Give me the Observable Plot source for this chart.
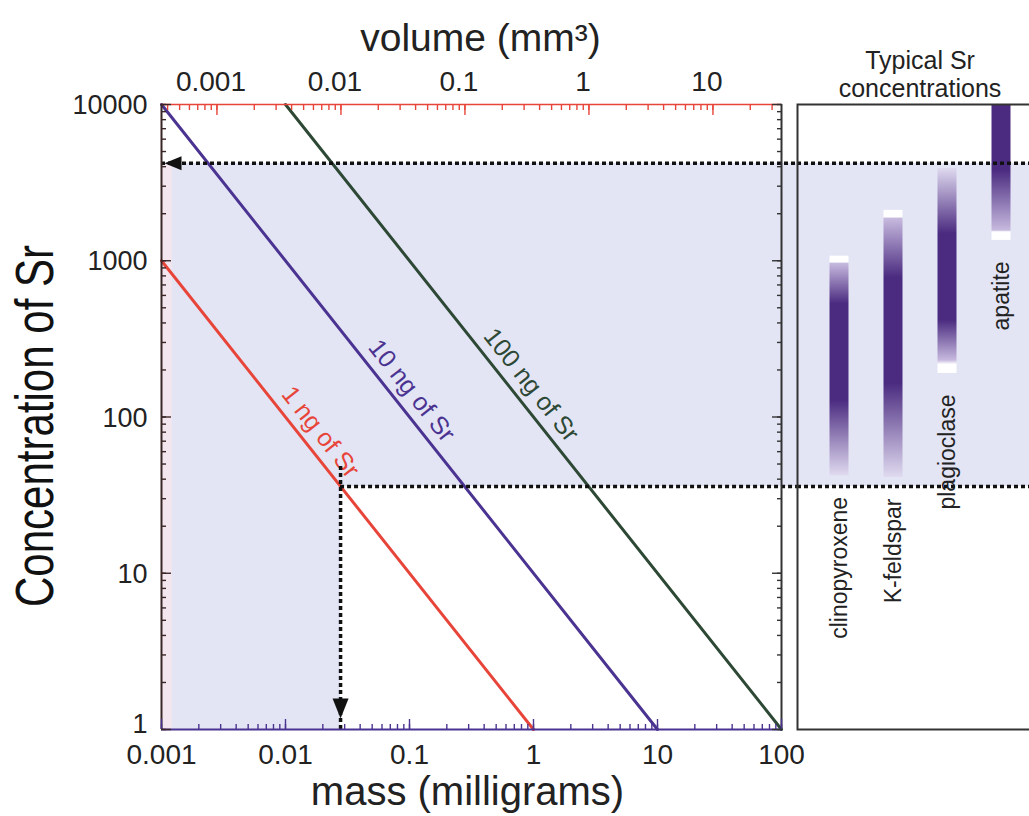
<!DOCTYPE html>
<html><head><meta charset="utf-8">
<script src="https://cdn.jsdelivr.net/npm/d3@7"></script>
<script src="https://cdn.jsdelivr.net/npm/@observablehq/plot@0.6"></script>
<style>
html,body{margin:0;padding:0;background:#fff;overflow:hidden}
#chart{position:relative;width:1029px;height:816px;overflow:hidden}
#chart svg{position:absolute;top:0}
</style></head><body><div id="chart"></div>
<script>
// ---------- data ----------
const massMajor = [0.001, 0.01, 0.1, 1, 10, 100];
const massTickLabels = ["0.001", "0.01", "0.1", "1", "10", "100"];
const concMajor = [1, 10, 100, 1000, 10000];
const concTickLabels = ["1", "10", "100", "1000", "10000"];
const volumeMajor = [0.001, 0.01, 0.1, 1, 10];
const volumeTickLabels = ["0.001", "0.01", "0.1", "1", "10"];
const density = 2.8; // mg per mm3 (volume axis)

const seriesNames = ["1 ng of Sr", "10 ng of Sr", "100 ng of Sr"];
const seriesMassStart = [0.001, 0.001, 0.01];
const seriesConcStart = [1000, 10000, 10000];
const seriesMassEnd = [1, 10, 100];
const seriesConcEnd = [1, 1, 1];
const labelMass = [0.0147, 0.080, 0.736];
const labelConc = [68, 125, 136];

const exampleMass = 0.0278;
const lowerConc = 35.9;
const upperConc = 4200;

const minerals = ["clinopyroxene", "K-feldspar", "plagioclase", "apatite"];
const mineralHigh = [1070, 2100, 3900, 10000];
const mineralLow = [42, 41, 190, 1350];
// gradient stops: [concentration, tone]  (tone: w = white cap, l = light, d = dark, f = faded)
const mineralStops = [
  [[1070, "w"], [975, "w"], [955, "l"], [530, "d"], [127, "d"], [42, "f"]],
  [[2100, "w"], [1900, "w"], [1850, "l"], [780, "d"], [163, "d"], [41, "f"]],
  [[3900, "f"], [1490, "d"], [415, "d"], [230, "l"], [216, "w"], [190, "w"]],
  [[10000, "d"], [3780, "d"], [1560, "l"], [1520, "w"], [1350, "w"]]
];

// ---------- styles ----------
const FONT = '"Liberation Sans", Arial, Helvetica, sans-serif';
const lineColors = ["#e8453a", "#4b3391", "#2d4834"];
const RED = "#e8453a", PURPLE = "#4b3391", DARK = "#3a2626";
const SHADE = "#e3e5f5", PINK = "#f4e6ef";
const tones = {w: "#ffffff", l: "#c6b9de", d: "#4b2b80", f: "#e0daf0"};
const DASH = "4 3";
const ANGLE = 51.6;
const OFF = 10; // px offset of line labels from their line
const offX = OFF * Math.sin(ANGLE * Math.PI / 180), offY = -OFF * Math.cos(ANGLE * Math.PI / 180);

const lineData = seriesNames.flatMap((s, i) => [
  {s, m: seriesMassStart[i], c: seriesConcStart[i], color: lineColors[i]},
  {s, m: seriesMassEnd[i], c: seriesConcEnd[i], color: lineColors[i]}
]);
const labelData = seriesNames.map((s, i) => ({s, m: labelMass[i], c: labelConc[i], color: lineColors[i]}));

const massLabel = new Map(massMajor.map((d, i) => [d, massTickLabels[i]]));
const concTicks = concMajor.map((d, i) => ({c: d, label: concTickLabels[i]}));
const volMajor = volumeMajor.map((v, i) => ({m: v * density, label: volumeTickLabels[i]}));
const volMajorMass = volMajor.map(d => d.m);
const volMinorMass = d3.scaleLog().domain([0.001 / density, 100 / density]).ticks(40).map(v => v * density);

const leftArrow = {draw(ctx) { ctx.moveTo(0, 0); ctx.lineTo(17, -7); ctx.lineTo(17, 7); ctx.closePath(); }};
const downArrow = {draw(ctx) { ctx.moveTo(0, 0); ctx.lineTo(-8, -20); ctx.lineTo(8, -20); ctx.closePath(); }};

const left = Plot.plot({
  width: 1029, height: 816,
  marginLeft: 161, marginRight: 248, marginTop: 104, marginBottom: 87,
  style: {background: "transparent", fontFamily: FONT, color: "#222", overflow: "visible"},
  x: {type: "log", domain: [0.001, 100], axis: null, label: null},
  y: {type: "log", domain: [1, 10000], axis: null, label: null},
  color: {type: "identity"},
  marks: [
    Plot.rect([{x1: 0.001, x2: 100, y1: lowerConc, y2: upperConc}], {x1: "x1", x2: "x2", y1: "y1", y2: "y2", fill: SHADE, insetRight: -16}),
    Plot.rect([{x1: 0.001, x2: exampleMass, y1: 1, y2: lowerConc}], {x1: "x1", x2: "x2", y1: "y1", y2: "y2", fill: SHADE}),
    Plot.rect([{x1: 0.001, x2: 0.00122, y1: 1, y2: upperConc}], {x1: "x1", x2: "x2", y1: "y1", y2: "y2", fill: PINK}),
    Plot.line(lineData, {x: "m", y: "c", z: "s", stroke: "color", strokeWidth: 3}),
    Plot.text(labelData, {x: "m", y: "c", text: "s", fill: "color", rotate: ANGLE, lineAnchor: "bottom", fontSize: 25, dx: offX, dy: offY}),
    Plot.ruleY([{y: upperConc, x1: 0.001, x2: 100}], {y: "y", x1: "x1", x2: "x2", stroke: "#111", strokeWidth: 3.5, strokeDasharray: DASH, insetRight: -16}),
    Plot.ruleY([{y: lowerConc, x1: exampleMass, x2: 100}], {y: "y", x1: "x1", x2: "x2", stroke: "#111", strokeWidth: 3.5, strokeDasharray: DASH, insetRight: -16}),
    Plot.ruleX([{x: exampleMass, y1: 1, y2: lowerConc}], {x: "x", y1: "y1", y2: "y2", stroke: "#111", strokeWidth: 3.5, strokeDasharray: DASH, insetBottom: 20}),
    Plot.dot([{x: 0.001, y: upperConc}], {x: "x", y: "y", symbol: leftArrow, fill: "#111", stroke: "none", dx: 3}),
    Plot.dot([{x: exampleMass, y: 1}], {x: "x", y: "y", symbol: downArrow, fill: "#111", stroke: "none", dy: -11}),
    // frame lines
    Plot.ruleY([1], {stroke: PURPLE, strokeWidth: 2}),
    Plot.ruleY([10000], {stroke: RED, strokeWidth: 1.6}),
    Plot.ruleX([0.001], {stroke: DARK, strokeWidth: 2}),
    Plot.ruleX([100], {stroke: "#333", strokeWidth: 2}),
    // bottom axis
    Plot.axisX({anchor: "bottom", ticks: 40, tickSize: -5, stroke: PURPLE, strokeWidth: 1.4, fill: "none", label: null}),
    Plot.axisX(massMajor, {anchor: "bottom", tickSize: -10, stroke: PURPLE, strokeWidth: 1.4, fill: "none", label: null}),
    Plot.axisX(massMajor, {anchor: "bottom", tickSize: 0, tickPadding: 15, tickFormat: d => massLabel.get(d), fontSize: 28, fill: "#222", label: null}),
    // top axis (volume)
    Plot.axisX(volMinorMass, {anchor: "top", tickSize: -5, stroke: RED, strokeWidth: 1.4, fill: "none", label: null}),
    Plot.axisX(volMajorMass, {anchor: "top", tickSize: -10, stroke: RED, strokeWidth: 1.4, fill: "none", label: null}),
    Plot.text(volMajor, {x: "m", text: "label", frameAnchor: "top", lineAnchor: "bottom", dy: -14, dx: -6, fontSize: 28, fill: "#222"}),
    // left axis
    Plot.axisY({anchor: "left", ticks: 40, tickSize: -5, stroke: DARK, strokeWidth: 1.4, fill: "none", label: null}),
    Plot.axisY(concMajor, {anchor: "left", tickSize: -10, stroke: DARK, strokeWidth: 1.4, fill: "none", label: null}),
    Plot.text(concTicks.filter(d => d.c > 1), {y: "c", text: "label", frameAnchor: "left", textAnchor: "end", dx: -14, dy: 1, fontSize: 27, fill: "#222"}),
    Plot.text(concTicks.filter(d => d.c === 1), {y: "c", text: "label", frameAnchor: "left", textAnchor: "end", dx: -14, dy: -5, fontSize: 27, fill: "#222"}),
    // right axis
    Plot.axisY({anchor: "right", ticks: 40, tickSize: -5, stroke: "#333", strokeWidth: 1.4, fill: "none", label: null}),
    Plot.axisY(concMajor, {anchor: "right", tickSize: -10, stroke: "#333", strokeWidth: 1.4, fill: "none", label: null}),
    // titles
    Plot.text(["volume (mm³)"], {frameAnchor: "top", text: d => d, lineAnchor: "bottom", dy: -54, dx: 9, fontSize: 39, fill: "#222"}),
    Plot.text(["mass (milligrams)"], {frameAnchor: "bottom", text: d => d, lineAnchor: "top", dy: 47, dx: -4, fontSize: 40, fill: "#222"}),
    Plot.text(["Concentration of Sr"], {frameAnchor: "left", text: d => d, rotate: -90, textAnchor: "start", lineAnchor: "middle", dx: -126, dy: 190, fontSize: 54, fill: "#111"})
  ]
});

const mineralData = minerals.map((name, i) => ({name, i, high: mineralHigh[i], low: mineralLow[i], grad: `url(#srgrad-${i})`}));

const right = Plot.plot({
  width: 245, height: 816,
  marginLeft: 0, marginRight: 0, marginTop: 104, marginBottom: 87,
  style: {background: "transparent", fontFamily: FONT, color: "#222", overflow: "visible"},
  x: {type: "band", domain: minerals, paddingInner: 0, paddingOuter: 0.25, axis: null, label: null},
  y: {type: "log", domain: [1, 10000], axis: null, label: null},
  color: {type: "identity"},
  marks: [
    Plot.rect([{y1: lowerConc, y2: upperConc}], {y1: "y1", y2: "y2", fill: SHADE}),
    Plot.barY(mineralData, {x: "name", y1: "low", y2: "high", fill: "grad", insetLeft: 17.5, insetRight: 17.5}),
    Plot.ruleY([upperConc, lowerConc], {stroke: "#111", strokeWidth: 3.5, strokeDasharray: DASH}),
    Plot.text(mineralData, {x: "name", y: "low", text: "name", rotate: -90, textAnchor: "end", dy: 21, fontSize: 23, fill: "#222"}),
    Plot.text(["Typical Sr\nconcentrations"], {frameAnchor: "top", text: d => d, lineAnchor: "bottom", dy: -8, fontSize: 25, lineHeight: 1.12, fill: "#222"}),
    Plot.frame({stroke: "#333", strokeWidth: 2})
  ]
});

// gradients for the concentration bars
const defs = d3.select(right).insert("defs", ":first-child");
mineralStops.forEach((stops, i) => {
  const hi = Math.log10(mineralHigh[i]), lo = Math.log10(mineralLow[i]);
  const g = defs.append("linearGradient").attr("id", `srgrad-${i}`)
    .attr("x1", 0).attr("y1", 0).attr("x2", 0).attr("y2", 1);
  stops.forEach(([c, t]) => {
    g.append("stop").attr("offset", ((hi - Math.log10(c)) / (hi - lo)).toFixed(4)).attr("stop-color", tones[t]);
  });
});

// condense the vertical axis title like the reference
d3.select(left).selectAll("text").filter(function() { return this.textContent === "Concentration of Sr"; })
  .attr("textLength", 362).attr("lengthAdjust", "spacingAndGlyphs");

const chart = document.getElementById("chart");
left.style.left = "0px";
right.style.left = "797px";
chart.appendChild(left);
chart.appendChild(right);
</script></body></html>
